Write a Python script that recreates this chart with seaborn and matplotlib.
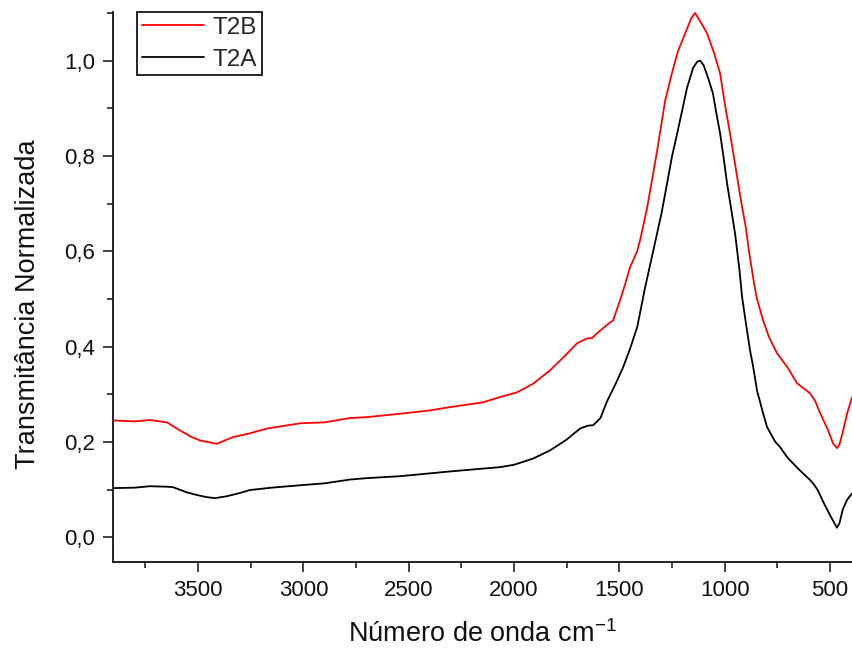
import matplotlib
matplotlib.use("Agg")
import matplotlib.pyplot as plt
from matplotlib.ticker import MultipleLocator, FuncFormatter
import pandas as pd
import seaborn as sns

# FTIR spectra, normalized transmittance vs wavenumber (cm^-1)
t2a_wavenumber = [3904, 3800, 3729, 3650, 3619, 3553, 3500, 3458, 3420, 3363, 3300,
                  3254, 3150, 3016, 2900, 2779, 2698, 2542, 2400, 2304, 2200, 2067,
                  2000, 1910, 1830, 1750, 1687, 1650, 1625, 1590, 1559, 1520, 1483,
                  1450, 1416, 1380, 1340, 1300, 1274, 1250, 1226, 1200, 1179, 1150,
                  1130, 1117, 1100, 1080, 1056, 1040, 1022, 1005, 989, 970, 951, 930,
                  918, 900, 880, 866, 847, 818, 799, 760, 737, 704, 650, 595, 581,
                  560, 530, 500, 475, 467, 455, 440, 420, 396]
t2a_value = [0.103, 0.104, 0.107, 0.106, 0.105, 0.094, 0.088, 0.084, 0.082, 0.086, 0.093,
             0.099, 0.104, 0.109, 0.113, 0.121, 0.124, 0.128, 0.134, 0.138, 0.142, 0.147,
             0.152, 0.165, 0.182, 0.205, 0.228, 0.234, 0.235, 0.250, 0.285, 0.320, 0.356,
             0.395, 0.440, 0.520, 0.600, 0.680, 0.742, 0.800, 0.847, 0.900, 0.943, 0.985,
             0.998, 1.000, 0.990, 0.965, 0.931, 0.890, 0.847, 0.795, 0.742, 0.690, 0.637, 0.560,
             0.505, 0.450, 0.392, 0.360, 0.308, 0.260, 0.231, 0.200, 0.189, 0.168, 0.143, 0.120, 0.113,
             0.100, 0.072, 0.046, 0.026, 0.020, 0.030, 0.058, 0.078, 0.092]

t2b_wavenumber = [3904, 3800, 3729, 3648, 3586, 3530, 3491, 3411, 3335, 3254, 3173,
                  3016, 2900, 2779, 2698, 2542, 2400, 2304, 2148, 2067, 1986, 1910,
                  1830, 1760, 1701, 1654, 1630, 1606, 1560, 1530, 1497, 1470, 1450,
                  1416, 1402, 1369, 1355, 1321, 1283, 1250, 1222, 1188, 1160, 1141, 1120,
                  1100, 1084, 1050, 1022, 1000, 975, 950, 923, 900, 885, 860, 847,
                  818, 790, 752, 700, 657, 595, 570, 547, 510, 486, 467, 455, 438,
                  419, 396]
t2b_value = [0.245, 0.243, 0.246, 0.241, 0.224, 0.210, 0.203, 0.196, 0.210, 0.218, 0.228,
             0.239, 0.241, 0.250, 0.252, 0.259, 0.266, 0.273, 0.283, 0.294, 0.304, 0.322,
             0.350, 0.380, 0.407, 0.417, 0.418, 0.428, 0.445, 0.455, 0.497, 0.535, 0.566,
             0.600, 0.623, 0.690, 0.725, 0.811, 0.916, 0.975, 1.020, 1.057, 1.088, 1.100, 1.085,
             1.070, 1.057, 1.015, 0.973, 0.910, 0.847, 0.780, 0.706, 0.650, 0.600, 0.530, 0.500,
             0.455, 0.420, 0.386, 0.355, 0.323, 0.302, 0.285, 0.260, 0.225, 0.197, 0.187, 0.195, 0.224,
             0.260, 0.293]

series_names = ["T2B", "T2A"]
series_colors = {"T2B": "#ff0000", "T2A": "#000000"}

df = pd.concat([
    pd.DataFrame({"wavenumber": t2b_wavenumber, "value": t2b_value, "amostra": "T2B"}),
    pd.DataFrame({"wavenumber": t2a_wavenumber, "value": t2a_value, "amostra": "T2A"}),
], ignore_index=True)

sns.set_theme(style="ticks")
plt.rcParams["font.family"] = ["Liberation Sans", "DejaVu Sans"]
plt.rcParams["mathtext.fontset"] = "custom"
plt.rcParams["mathtext.rm"] = "Liberation Sans"
plt.rcParams["mathtext.default"] = "regular"

W, H = 852, 650
fig = plt.figure(figsize=(W / 100, H / 100), dpi=100)
ax = fig.add_axes([113 / W, 1 - 562 / H, 1 - 113 / W, (562 - 12) / H])

sns.lineplot(data=df, x="wavenumber", y="value", hue="amostra", hue_order=series_names,
             palette=series_colors, estimator=None, sort=False, linewidth=1.3, ax=ax)

ax.set_xlim(3904, 396)
ax.set_ylim(-0.052, 1.102)

ax.xaxis.set_major_locator(MultipleLocator(500))
ax.xaxis.set_minor_locator(MultipleLocator(250))
ax.yaxis.set_major_locator(MultipleLocator(0.2))
ax.yaxis.set_minor_locator(MultipleLocator(0.1))
ax.yaxis.set_major_formatter(FuncFormatter(lambda v, p: f"{v:.1f}".replace(".", ",").replace("-0,0", "0,0")))
ax.xaxis.set_major_formatter(FuncFormatter(lambda v, p: f"{v:.0f}"))

for side in ("top", "right"):
    ax.spines[side].set_visible(False)
for side in ("left", "bottom"):
    ax.spines[side].set_linewidth(1.3)
    ax.spines[side].set_color("#111111")

ax.tick_params(which="major", direction="out", length=7, width=1.1, labelsize=16,
               colors="#111111", pad=6)
ax.tick_params(which="minor", direction="out", length=4, width=1.1, colors="#111111")

ax.set_xlabel("Número de onda cm$^{-1}$", fontsize=19.5, labelpad=14, color="#111111")
ax.set_ylabel("Transmitância Normalizada", fontsize=19.5, color="#111111")
ax.yaxis.set_label_coords(-0.0975, 0.469)

leg = ax.legend(loc="upper left", bbox_to_anchor=(0.0325, 1.0), borderaxespad=0,
                frameon=True, fancybox=False, framealpha=1, edgecolor="black",
                fontsize=17.5, handlelength=2.55, handletextpad=0.37, borderpad=0.2,
                labelspacing=0.4, title=None)
leg.get_frame().set_linewidth(1.2)
for line in leg.get_lines():
    line.set_linewidth(1.3)

fig.savefig("out.png", dpi=100)
